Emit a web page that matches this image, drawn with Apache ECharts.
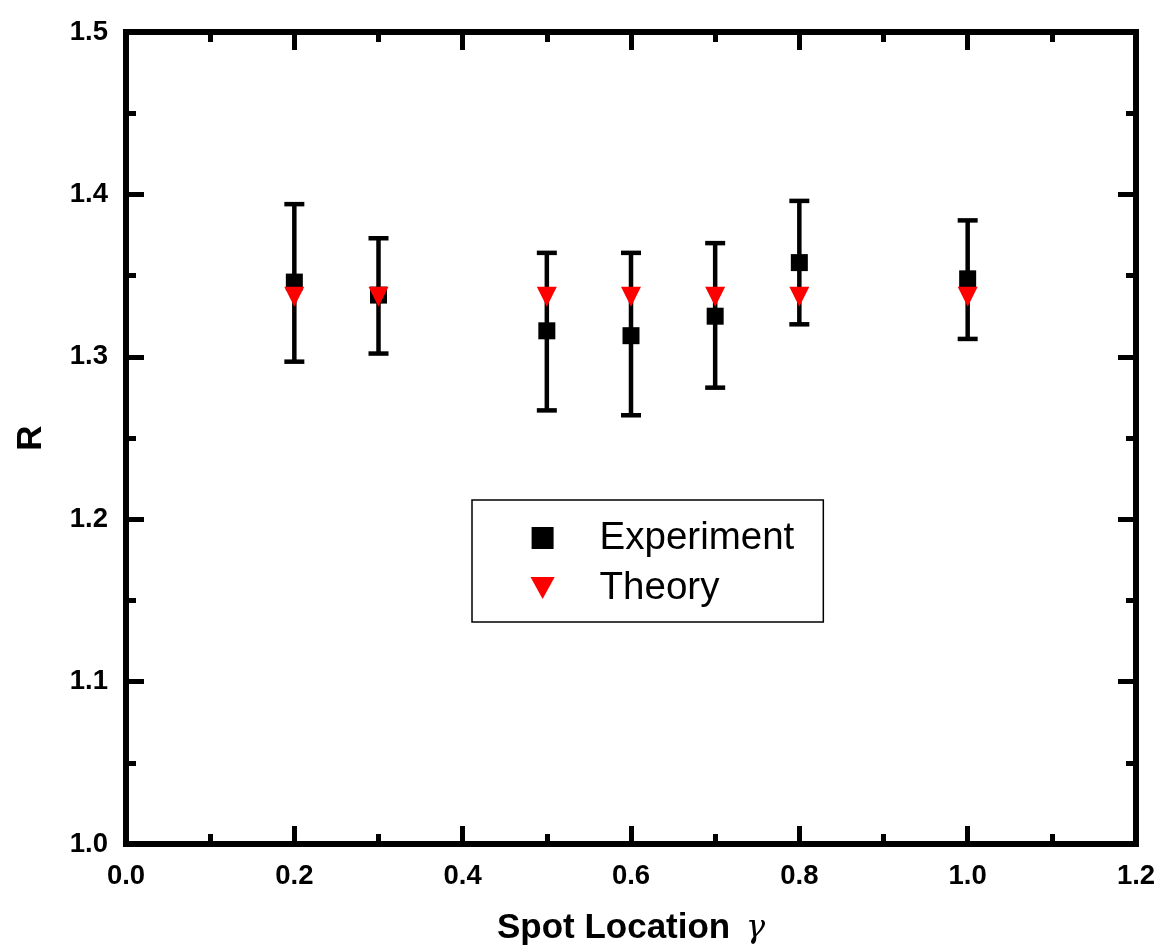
<!DOCTYPE html>
<html>
<head>
<meta charset="utf-8">
<title>R vs Spot Location</title>
<script src="https://cdn.jsdelivr.net/npm/echarts@6/dist/echarts.min.js"></script>
<style>
  html, body { margin: 0; padding: 0; background: #ffffff; }
  #chart { width: 1162px; height: 951px; }
</style>
</head>
<body>
<div id="chart"></div>
<script>
// Spot locations (gamma) where R was measured
const spotLocations = [0.2, 0.3, 0.5, 0.6, 0.7, 0.8, 1.0];
// Measured R and its error-bar limits
const experimentR = [1.346, 1.338, 1.316, 1.313, 1.325, 1.358, 1.348];
const experimentLow = [1.297, 1.302, 1.267, 1.264, 1.281, 1.320, 1.311];
const experimentHigh = [1.394, 1.373, 1.364, 1.364, 1.370, 1.396, 1.384];
// Predicted R
const theoryR = [1.337, 1.337, 1.337, 1.337, 1.337, 1.337, 1.337];

const seriesNames = ['Experiment', 'Theory'];

const FONT = "'Liberation Sans', Arial, Helvetica, sans-serif";
const INK = '#000000';

const expPoints = spotLocations.map((x, i) => [x, experimentR[i]]);
const theoryPoints = spotLocations.map((x, i) => [x, theoryR[i]]);
const errorRows = spotLocations.map((x, i) => [x, experimentLow[i], experimentHigh[i]]);

const axisLineStyle = { color: INK, width: 6, cap: 'square' };
const tickStyle = { color: INK, width: 5 };

function frameAxis(extra) {
  return Object.assign({
    axisLine: { show: true, onZero: false, lineStyle: axisLineStyle },
    axisTick: { show: true, inside: true, length: 18, lineStyle: tickStyle },
    minorTick: { show: true, splitNumber: 2, length: 10, lineStyle: tickStyle },
    splitLine: { show: false },
    minorSplitLine: { show: false }
  }, extra);
}

const chart = echarts.init(document.getElementById('chart'), null, { renderer: 'canvas' });

chart.setOption({
  backgroundColor: '#ffffff',
  animation: false,
  grid: { left: 126, right: 26, top: 32, bottom: 106.5, containLabel: false },
  legend: {
    orient: 'vertical',
    left: 472,
    top: 500,
    padding: [18, 29, 14, 58.5],
    itemGap: 10,
    itemWidth: 25,
    itemHeight: 22,
    borderColor: INK,
    borderWidth: 1.5,
    backgroundColor: '#ffffff',
    selectedMode: false,
    formatter: '{gap|}{name}',
    textStyle: {
      fontFamily: FONT,
      fontSize: 38.5,
      color: INK,
      lineHeight: 40,
      rich: { gap: { width: 39.5, fontSize: 38.5, lineHeight: 40 } }
    },
    data: [
      { name: seriesNames[0], icon: 'path://M0,0 L10,0 L10,10 L0,10 Z', itemStyle: { color: INK, opacity: 1 } },
      { name: seriesNames[1], icon: 'path://M0,0 L11,0 L5.5,10 Z', itemStyle: { color: '#ff0000', opacity: 1 } }
    ]
  },
  xAxis: [
    frameAxis({
      type: 'value', position: 'bottom', min: 0, max: 1.2, interval: 0.2,
      name: '{t|Spot Location }{g|γ}',
      nameLocation: 'middle',
      nameGap: 67,
      nameTextStyle: {
        rich: {
          t: { fontFamily: FONT, fontWeight: 'bold', fontSize: 35, color: INK },
          g: { fontFamily: "'DejaVu Serif', 'Liberation Serif', serif", fontStyle: 'italic', fontSize: 32, color: INK, padding: [0, 0, 0, 6] }
        }
      },
      axisLabel: {
        show: true, margin: 18, color: INK, fontFamily: FONT, fontWeight: 'bold', fontSize: 27.5,
        formatter: v => v.toFixed(1)
      }
    }),
    frameAxis({
      type: 'value', position: 'top', min: 0, max: 1.2, interval: 0.2,
      axisLabel: { show: false }
    })
  ],
  yAxis: [
    frameAxis({
      type: 'value', position: 'left', min: 1.0, max: 1.5, interval: 0.1,
      name: 'R',
      nameLocation: 'middle',
      nameGap: 77,
      nameTextStyle: { fontFamily: FONT, fontWeight: 'bold', fontSize: 35, color: INK },
      axisLabel: {
        show: true, margin: 18, color: INK, fontFamily: FONT, fontWeight: 'bold', fontSize: 27.5,
        formatter: v => v.toFixed(1)
      }
    }),
    frameAxis({
      type: 'value', position: 'right', min: 1.0, max: 1.5, interval: 0.1,
      axisLabel: { show: false }
    })
  ],
  series: [
    {
      name: 'errorBars',
      type: 'custom',
      xAxisIndex: 0,
      yAxisIndex: 0,
      data: errorRows,
      encode: { x: 0, y: [1, 2] },
      z: 2,
      silent: true,
      renderItem: function (params, api) {
        const x = api.value(0);
        const bottom = api.coord([x, api.value(1)]);
        const top = api.coord([x, api.value(2)]);
        const half = 10;
        const style = { stroke: INK, lineWidth: 4.5 };
        return {
          type: 'group',
          children: [
            { type: 'line', shape: { x1: top[0], y1: top[1], x2: bottom[0], y2: bottom[1] }, style: style },
            { type: 'line', shape: { x1: top[0] - half, y1: top[1], x2: top[0] + half, y2: top[1] }, style: style },
            { type: 'line', shape: { x1: bottom[0] - half, y1: bottom[1], x2: bottom[0] + half, y2: bottom[1] }, style: style }
          ]
        };
      }
    },
    {
      name: seriesNames[0],
      type: 'scatter',
      data: expPoints,
      symbol: 'rect',
      symbolSize: 17,
      itemStyle: { color: INK, opacity: 1 },
      z: 3
    },
    {
      name: seriesNames[1],
      type: 'scatter',
      data: theoryPoints,
      symbol: 'triangle',
      symbolRotate: 180,
      symbolSize: [20, 20],
      itemStyle: { color: '#ff0000', opacity: 1 },
      z: 4
    }
  ]
});
</script>
</body>
</html>
